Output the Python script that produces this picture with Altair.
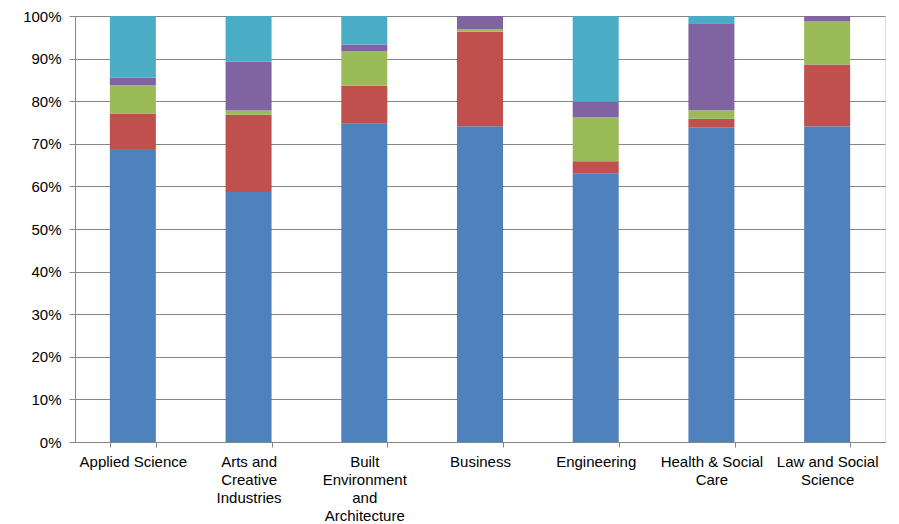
import altair as alt
import pandas as pd

categories = ["Applied Science", "Arts and Creative Industries", "Built Environment and Architecture",
              "Business", "Engineering", "Health & Social Care", "Law and Social Science"]
label_lines = [["Applied Science"], ["Arts and", "Creative", "Industries"],
               ["Built", "Environment", "and", "Architecture"], ["Business"], ["Engineering"],
               ["Health & Social", "Care"], ["Law and Social", "Science"]]
series = ["Series 1", "Series 2", "Series 3", "Series 4", "Series 5"]
colors = ["#4F81BD", "#C0504D", "#9BBB59", "#8064A2", "#4BACC6"]
s1 = [68.8, 58.7, 74.7, 74.1, 63.1, 73.9, 74.1]
s2 = [8.3, 18.1, 8.9, 22.2, 2.8, 2.0, 14.5]
s3 = [6.7, 1.0, 8.2, 0.6, 10.4, 2.0, 10.1]
s4 = [1.7, 11.5, 1.5, 3.1, 3.6, 20.4, 1.3]
s5 = [14.5, 10.7, 6.7, 0.0, 20.1, 1.7, 0.0]

rows = []
for si, (name, vals) in enumerate(zip(series, [s1, s2, s3, s4, s5])):
    for c, v in zip(categories, vals):
        rows.append({"category": c, "series": name, "idx": si, "value": v / 100.0})
df = pd.DataFrame(rows)

label_expr = ""
for c, lines in zip(categories, label_lines):
    arr = "[" + ",".join("'" + l + "'" for l in lines) + "]"
    label_expr += f"datum.label == '{c}' ? {arr} : "
label_expr += "datum.label"

chart = alt.Chart(df).mark_bar(size=46).encode(
    x=alt.X("category:N", sort=categories, title=None,
            scale=alt.Scale(paddingInner=0.6, paddingOuter=0.3),
            axis=alt.Axis(labelAngle=0, labelExpr=label_expr, labelLineHeight=18,
                          labelFontSize=15, labelColor="#000000", labelFont="Liberation Sans",
                          tickBand="extent", tickSize=5, tickColor="#868686",
                          domainColor="#868686", labelPadding=7, grid=False,
                          labelLimit=200)),
    y=alt.Y("value:Q", stack="zero", title=None,
            scale=alt.Scale(domain=[0, 1], nice=False),
            axis=alt.Axis(format=".0%", values=[i / 10 for i in range(11)],
                          labelFontSize=15, labelColor="#000000", labelFont="Liberation Sans",
                          tickSize=6, tickColor="#868686", domainColor="#868686",
                          gridColor="#868686", gridWidth=1, labelPadding=8)),
    color=alt.Color("series:N", scale=alt.Scale(domain=series, range=colors), legend=None),
    order=alt.Order("idx:Q", sort="ascending"),
).properties(
    width=810, height=426,
    autosize=alt.AutoSizeParams(type="none"),
    padding={"left": 75, "top": 16, "right": 14, "bottom": 82},
).configure_view(stroke=None).configure(background="#ffffff")

chart.save("out.html", embed_options={"renderer": "svg", "actions": False})
